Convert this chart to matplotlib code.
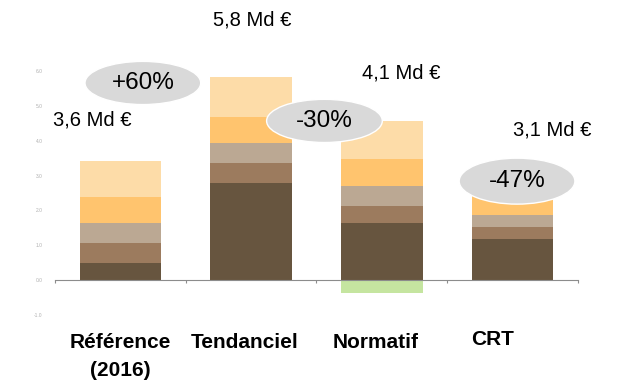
import numpy as np
import matplotlib

matplotlib.use("Agg")
import matplotlib.pyplot as plt
from matplotlib.patches import Ellipse


CATEGORIES = ["Référence\n(2016)", "Tendanciel", "Normatif", "CRT"]
# stacked segments, bottom to top
SEG_DARK = [0.49, 2.79, 1.64, 1.18]
SEG_BROWN = [0.57, 0.57, 0.49, 0.34]
SEG_TAUPE = [0.57, 0.57, 0.57, 0.34]
SEG_ORANGE = [0.75, 0.75, 0.78, 0.62]
SEG_PEACH = [1.03, 1.15, 1.09, 0.0]
SEG_GREEN = [0.0, 0.0, -0.37, 0.0]
TOTAL_LABELS = ["3,6 Md €", "5,8 Md €", "4,1 Md €", "3,1 Md €"]
CHANGE_LABELS = ["+60%", "-30%", "-47%"]

SEG_COLORS = ["#67553f", "#9c7b5e", "#bba893", "#ffc46e", "#fddca8"]
GREEN = "#c5e5a0"

plt.rcParams["font.family"] = ["Liberation Sans", "DejaVu Sans"]


def main():
    fig = plt.figure(figsize=(6.2, 3.82), dpi=100)
    ax = fig.add_axes([0.0887, 0.1576, 0.8435, 0.6744])

    x = np.arange(len(CATEGORIES))
    width = 0.625
    bottom = np.zeros(len(x))
    for seg, color in zip([SEG_DARK, SEG_BROWN, SEG_TAUPE, SEG_ORANGE, SEG_PEACH], SEG_COLORS):
        ax.bar(x, seg, width, bottom=bottom, color=color, zorder=2)
        bottom += np.array(seg)
    ax.bar(x, SEG_GREEN, width, color=GREEN, zorder=2)

    ax.set_xlim(-0.5, 3.5)
    ax.set_ylim(-1.2, 6.2)

    # baseline with small ticks at category boundaries
    for side in ["left", "right", "top"]:
        ax.spines[side].set_visible(False)
    ax.spines["bottom"].set_position(("data", 0))
    ax.spines["bottom"].set_color("#8c8c8c")
    ax.spines["bottom"].set_zorder(3)
    ax.set_xticks([-0.5, 0.5, 1.5, 2.5, 3.5], labels=[""] * 5)
    ax.tick_params(axis="x", length=2, color="#8c8c8c")

    ax.set_yticks(np.arange(-1, 7), labels=[f"{v:.1f}" for v in np.arange(-1, 7)])
    ax.tick_params(axis="y", length=0, labelsize=3.5, labelcolor="#b0b0b0", pad=9)

    # category names
    label_x = x + np.array([0.0, -0.05, -0.05, -0.15])
    label_y = [-1.95, -1.95, -1.95, -1.87]
    for lx, ly, name in zip(label_x, label_y, CATEGORIES):
        first, *rest = name.split("\n")
        ax.text(lx, ly, first, ha="center", va="baseline", fontsize=15,
                fontweight="bold", clip_on=False)
        if rest:
            ax.text(lx, ly - 0.8, rest[0], ha="center", va="baseline", fontsize=15,
                    fontweight="bold", clip_on=False)

    # totals
    total_pos = [(-0.218, 4.6), (1.01, 7.47), (2.15, 5.95), (3.3, 4.31)]
    for (tx, ty), txt in zip(total_pos, TOTAL_LABELS):
        ax.text(tx, ty, txt, ha="center", va="center", fontsize=14.5, clip_on=False)

    # change bubbles
    bubble_pos = [(0.172, 5.66, 1.24), (1.561, 4.57, 1.24), (3.034, 2.84, 1.32)]
    for (bx, by, bh), txt in zip(bubble_pos, CHANGE_LABELS):
        ax.add_patch(Ellipse((bx, by), 0.885, bh, facecolor="#d9d9d9",
                             edgecolor="white", lw=1, zorder=4, clip_on=False))
        ax.text(bx, by, txt, ha="center", va="center", fontsize=17.5, zorder=5)

    fig.savefig("out.png", dpi=100)
    plt.close(fig)


if __name__ == "__main__":
    main()
